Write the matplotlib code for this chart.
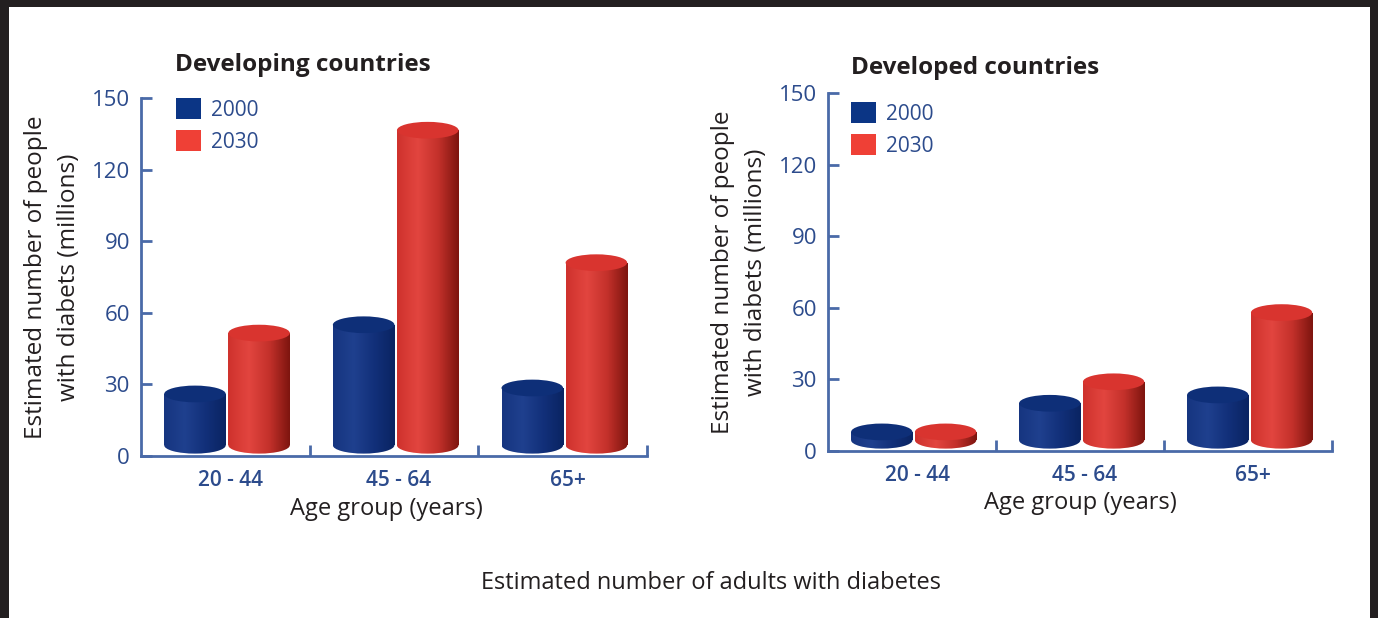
import numpy as np
import matplotlib.pyplot as plt
from matplotlib.patches import Rectangle, Ellipse, Patch
from matplotlib.colors import to_rgb

plt.rcParams['font.family'] = ['Open Sans', 'DejaVu Sans']

groups = ['20 - 44', '45 - 64', '65+']
years = ['2000', '2030']
developing_2000 = [26, 55, 28.5]
developing_2030 = [51.5, 136.5, 81]
developed_2000 = [8, 20, 23.5]
developed_2030 = [8, 29, 58]

axis_blue = '#4a6aa8'
label_blue = '#2c4b8c'
text_dark = '#231f20'
legend_colors = ['#0b3585', '#ef4036']
body_stops = {
    '2000': ['#163580', '#1f408e', '#12307a', '#0a2462'],
    '2030': ['#cf322d', '#e2453f', '#c4312b', '#7e150f'],
}
top_colors = {'2000': '#0e2f78', '2030': '#d9342f'}


def gradient(stops, n=64):
    cols = np.array([to_rgb(c) for c in stops])
    pos = np.linspace(0, 1, len(stops))
    xs = np.linspace(0, 1, n)
    rgb = np.stack([np.interp(xs, pos, cols[:, k]) for k in range(3)], axis=-1)
    return rgb[np.newaxis, :, :]


def cylinder(ax, xc, w, value, key, base=4.5, eh=7):
    x0 = xc - w / 2
    img = gradient(body_stops[key])
    # body
    rect = Rectangle((x0, base), w, value - base, transform=ax.transData)
    im = ax.imshow(img, extent=[x0, x0 + w, base - eh / 2, value], aspect='auto',
                   interpolation='bilinear', zorder=2)
    im.set_clip_path(rect)
    # rounded bottom
    bot = Ellipse((xc, base), w, eh, transform=ax.transData)
    im2 = ax.imshow(img, extent=[x0, x0 + w, base - eh / 2, value], aspect='auto',
                    interpolation='bilinear', zorder=2)
    im2.set_clip_path(bot)
    # top cap
    ax.add_patch(Ellipse((xc, value), w, eh, facecolor=top_colors[key],
                         edgecolor='none', zorder=3))


def draw_panel(ax, v2000, v2030):
    x = np.arange(len(groups)) + 0.5
    w = 0.365
    for i in range(len(groups)):
        cylinder(ax, x[i] - 0.18, w, v2000[i], '2000')
        cylinder(ax, x[i] + 0.20, w, v2030[i], '2030')

    ax.set_xlim(0, 3)
    ax.set_ylim(0, 150)
    for s in ['top', 'right']:
        ax.spines[s].set_visible(False)
    for s in ['left', 'bottom']:
        ax.spines[s].set_color(axis_blue)
        ax.spines[s].set_linewidth(2)

    ax.set_yticks([0, 30, 60, 90, 120, 150])
    ax.tick_params(axis='y', direction='in', length=8, width=2, color=axis_blue,
                   labelcolor=label_blue, labelsize=16, pad=8)
    ax.set_xticks([1, 2, 3], minor=True)
    ax.tick_params(axis='x', which='minor', direction='in', length=8, width=2,
                   color=axis_blue)
    ax.set_xticks(x + 0.03)
    ax.set_xticklabels(groups, fontweight='semibold')
    ax.tick_params(axis='x', which='major', length=0, pad=10,
                   labelcolor=label_blue, labelsize=15)

    ax.set_ylabel('Estimated number of people\nwith diabets (millions)', fontsize=17.5,
                  color=text_dark, labelpad=8, linespacing=1.5)
    ax.set_xlabel('Age group (years)', fontsize=17, color=text_dark, labelpad=4)


fig = plt.figure(figsize=(13.78, 6.18), dpi=100)
W, H = 1378, 618

ax1 = fig.add_axes([141 / W, 1 - 456 / H, 506 / W, 358 / H])
ax2 = fig.add_axes([828 / W, 1 - 451 / H, 504 / W, 358 / H])
draw_panel(ax1, developing_2000, developing_2030)
draw_panel(ax2, developed_2000, developed_2030)
ax1.xaxis.set_label_coords(0.485, -0.115)

handles = [Patch(facecolor=c, edgecolor='none') for c in legend_colors]
for ax, (lx, ly) in [(ax1, (176, 98)), (ax2, (851, 102))]:
    ax.legend(handles, years, loc='upper left', bbox_to_anchor=(lx / W, 1 - ly / H),
              bbox_transform=fig.transFigure, frameon=False, borderpad=0,
              borderaxespad=0, fontsize=15, labelcolor=label_blue,
              handlelength=1.2, handleheight=1.2, labelspacing=0.45,
              handletextpad=0.5)

fig.text(175 / W, 1 - 65 / H, 'Developing countries', fontsize=17.5, fontweight='bold',
         color=text_dark, va='center')
fig.text(851 / W, 1 - 68 / H, 'Developed countries', fontsize=17.5, fontweight='bold',
         color=text_dark, va='center')
fig.text(711 / W, 1 - 583 / H, 'Estimated number of adults with diabetes',
         fontsize=17, color=text_dark, ha='center', va='center')

# dark frame around the picture
frame = '#231f20'
fig.patches.append(Rectangle((0, 1 - 7 / H), 1, 7 / H, transform=fig.transFigure,
                             facecolor=frame, edgecolor='none'))
fig.patches.append(Rectangle((0, 0), 9 / W, 1, transform=fig.transFigure,
                             facecolor=frame, edgecolor='none'))
fig.patches.append(Rectangle((1 - 8 / W, 0), 8 / W, 1, transform=fig.transFigure,
                             facecolor=frame, edgecolor='none'))

fig.savefig('out.png', dpi=100)
